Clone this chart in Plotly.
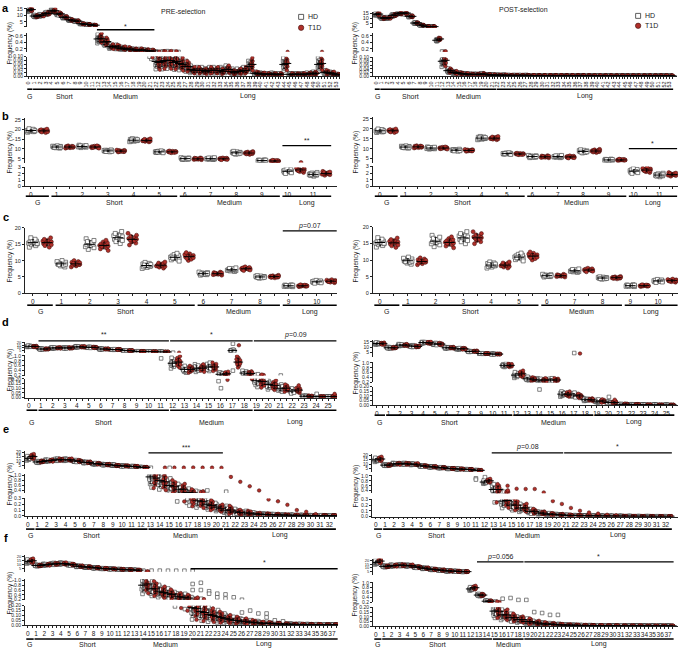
import plotly.graph_objects as go

W, H = 680, 650
FONT = "Liberation Sans, Arial, Helvetica, sans-serif"

# ---------------- data (frequencies in %) ----------------
A_CATS = [str(i) for i in range(54)]
A_PRE_HD = [14.0, 9.5, 10.0, 11.5, 13.5, 11.0, 8.5, 6.5, 5.5, 3.5, 3.0, 2.3,
            0.50, 0.40, 0.27, 0.25, 0.20, 0.18, 0.16, 0.15, 0.14, 0.12,
            0.075, 0.075, 0.08, 0.07, 0.065, 0.05, 0.035, 0.03, 0.03, 0.03, 0.03, 0.03,
            0.035, 0.025, 0.025, 0.03, 0.05, 0.015, 0.012, 0.01, 0.012, 0.01, 0.06, 0.01,
            0.01, 0.01, 0.012, 0.015, 0.06, 0.02, 0.015, 0.008]
A_PRE_T1D = [14.5, 9.3, 10.2, 11.6, 13.6, 11.2, 8.6, 6.4, 5.6, 3.4, 2.9, 2.4,
             0.52, 0.42, 0.26, 0.25, 0.21, 0.19, 0.16, 0.16, 0.14, 0.13,
             0.07, 0.08, 0.08, 0.075, 0.06, 0.05, 0.03, 0.03, 0.025, 0.03, 0.03, 0.025,
             0.035, 0.02, 0.025, 0.03, 0.06, 0.015, 0.012, 0.01, 0.01, 0.01, 0.065, 0.01,
             0.01, 0.01, 0.012, 0.015, 0.065, 0.02, 0.015, 0.008]
A_POST_HD = [14.0, 10.5, 10.5, 13.0, 15.0, 15.0, 12.0, 5.5, 3.5, 2.0, 2.0,
             0.46, 0.08, 0.03, 0.02, 0.015, 0.012, 0.01, 0.01, 0.012, 0.008, 0.007,
             0.006, 0.006, 0.005, 0.005, 0.005, 0.005, 0.004, 0.004, 0.004, 0.004, 0.004,
             0.004, 0.004, 0.004, 0.004, 0.004, 0.004, 0.003, 0.003, 0.003, 0.003, 0.003,
             0.003, 0.003, 0.003, 0.003, 0.003, 0.003, 0.003, 0.003, 0.003, 0.003]
A_POST_T1D = [14.2, 10.3, 10.6, 13.2, 15.0, 15.2, 12.0, 5.6, 3.4, 2.0, 2.0,
              0.50, 0.085, 0.03, 0.02, 0.015, 0.012, 0.01, 0.01, 0.012, 0.008, 0.007,
              0.006, 0.006, 0.005, 0.005, 0.005, 0.005, 0.004, 0.004, 0.004, 0.004, 0.004,
              0.004, 0.004, 0.004, 0.004, 0.004, 0.004, 0.003, 0.003, 0.003, 0.003, 0.003,
              0.003, 0.003, 0.003, 0.003, 0.003, 0.003, 0.003, 0.003, 0.003, 0.003]

B_CATS = [str(i) for i in range(12)]
B_PRE_HD = [19.5, 11.0, 11.3, 9.0, 14.5, 8.5, 5.0, 5.0, 8.0, 4.0, 2.4, 1.9]
B_PRE_T1D = [19.3, 11.0, 11.0, 8.9, 14.4, 8.5, 4.9, 4.9, 7.9, 3.8, 2.6, 2.05]
B_POST_HD = [19.0, 10.8, 10.3, 9.2, 15.3, 7.5, 6.0, 6.0, 8.6, 4.3, 2.3, 1.7]
B_POST_T1D = [19.0, 10.9, 10.3, 9.1, 15.3, 7.3, 5.9, 5.8, 8.8, 4.3, 2.45, 1.8]

C_CATS = [str(i) for i in range(11)]
C_PRE_HD = [15.5, 9.0, 15.0, 17.0, 8.5, 11.0, 6.0, 7.2, 5.0, 2.3, 3.5]
C_PRE_T1D = [15.5, 9.0, 14.6, 16.5, 8.6, 11.2, 6.0, 7.5, 5.1, 2.3, 3.7]
C_POST_HD = [15.3, 9.8, 15.7, 16.7, 8.5, 10.9, 5.3, 6.8, 4.6, 2.3, 3.7]
C_POST_T1D = [15.2, 9.6, 15.3, 16.7, 8.5, 11.2, 5.3, 7.0, 4.7, 2.3, 3.8]

D_CATS = [str(i) for i in range(26)]
D_PRE_HD = [13.0, 8.0, 10.0, 10.0, 12.0, 11.0, 8.0, 7.0, 5.0, 3.5, 3.0, 2.5,
            0.70, 0.45, 0.50, 0.55, 0.25, 5.0, 0.30, 0.18, 0.14, 0.10, 0.07, 0.015, 0.01, 0.01]
D_PRE_T1D = [12.5, 8.0, 10.0, 10.0, 12.0, 11.0, 8.0, 7.0, 5.0, 3.5, 3.0, 2.5,
             0.75, 0.45, 0.50, 0.55, 0.27, 0.75, 0.28, 0.17, 0.13, 0.10, 0.08, 0.015, 0.01, 0.012]
D_PRE_HD_OUT = [(11, 0.9), (12, 1.1), (16, 0.1), (17, 18.0), (17, 0.4), (21, 0.2), (24, 0.04)]
D_PRE_T1D_OUT = [(12, 1.1), (17, 15.0), (22, 0.13), (25, 0.04)]
D_POST_HD = [13.5, 9.5, 12.0, 11.0, 14.5, 13.0, 9.5, 8.5, 6.0, 4.0, 3.5, 0.9,
             0.50, 0.35, 0.30, 0.30, 0.12, 0.11, 0.06, 0.045, 0.03, 0.01, 0.008, 0.005, 0.004, 0.003]
D_POST_T1D = [13.3, 9.5, 12.0, 10.8, 14.3, 13.0, 9.5, 8.5, 6.2, 4.0, 3.5, 0.9,
              0.55, 0.33, 0.30, 0.30, 0.12, 0.10, 0.06, 0.045, 0.03, 0.012, 0.008, 0.005, 0.004, 0.003]
D_POST_HD_OUT = [(14, 0.17), (17, 4.5), (20, 0.09)]
D_POST_T1D_OUT = [(17, 4.0), (20, 0.06)]

E_CATS = [str(i) for i in range(33)]
E_PRE_HD = [13.0, 9.0, 10.5, 11.5, 11.5, 10.0, 8.5, 7.0, 6.0, 5.5, 4.5, 4.0, 3.0,
            0.95, 0.80, 0.60, 0.45, 0.32, 0.26, 0.20, 0.15,
            0.10, 0.07, 0.05, 0.035, 0.025, 0.02, 0.015, 0.012, 0.01, 0.008, 0.007, 0.006]
E_PRE_T1D = [15.0, 9.5, 10.5, 11.5, 11.5, 10.0, 8.5, 7.0, 6.0, 5.0, 4.5, 4.0, 3.0,
             0.90, 0.75, 0.55, 0.45, 0.30, 0.25, 0.18, 0.13,
             0.10, 0.06, 0.05, 0.03, 0.025, 0.02, 0.015, 0.012, 0.01, 0.008, 0.007, 0.006]
E_PRE_HD_OUT = [(13, 2.5), (15, 2.4), (19, 0.4), (21, 0.35)]
E_PRE_T1D_OUT = [(14, 2.6), (15, 2.6), (16, 2.6), (17, 2.8), (18, 2.6), (19, 2.6), (20, 2.5),
                 (21, 0.95), (22, 0.75), (23, 0.57), (24, 0.40), (25, 0.28), (26, 0.25),
                 (27, 0.19), (28, 0.10), (29, 0.07), (30, 0.03)]
E_POST_HD = [15.0, 9.0, 10.5, 10.5, 10.0, 8.0, 7.0, 6.0, 5.0, 4.5, 4.0, 3.0,
             0.75, 0.45, 0.27, 0.20, 0.15, 0.09, 0.06, 0.04, 0.03,
             0.02, 0.015, 0.012, 0.01, 0.008, 0.007, 0.006, 0.005, 0.004, 0.004, 0.003, 0.003]
E_POST_T1D = [16.0, 9.0, 10.5, 10.5, 10.0, 8.0, 7.0, 6.0, 5.0, 4.5, 4.0, 3.0,
              0.80, 0.45, 0.28, 0.20, 0.15, 0.09, 0.06, 0.04, 0.03,
              0.02, 0.015, 0.012, 0.01, 0.008, 0.007, 0.006, 0.005, 0.004, 0.004, 0.003, 0.003]
E_POST_HD_OUT = [(11, 0.9), (11, 0.85), (12, 0.95)]
E_POST_T1D_OUT = [(14, 0.60), (15, 0.48), (16, 0.47), (17, 0.47), (18, 0.33), (19, 0.27),
                  (20, 0.22), (21, 0.15), (22, 0.10), (23, 0.07), (24, 0.05), (25, 0.03), (26, 0.02)]

F_CATS = [str(i) for i in range(38)]
F_PRE_HD = [14.0, 9.0, 10.0, 11.0, 11.5, 10.0, 8.0, 7.0, 6.0, 5.0, 4.5, 4.0, 3.5, 3.0,
            0.80, 0.65, 0.55, 0.45, 0.35, 0.30,
            0.18, 0.14, 0.11, 0.09, 0.07, 0.05, 0.04, 0.03, 0.025, 0.02, 0.015, 0.012,
            0.01, 0.008, 0.007, 0.006, 0.005, 0.005]
F_PRE_T1D = [15.0, 9.0, 10.0, 11.0, 11.5, 10.0, 8.0, 7.0, 6.0, 5.0, 4.5, 4.0, 3.5, 3.0,
             0.85, 0.65, 0.50, 0.42, 0.32, 0.27,
             0.17, 0.13, 0.10, 0.08, 0.06, 0.05, 0.04, 0.03, 0.02, 0.018, 0.014, 0.011,
             0.009, 0.008, 0.007, 0.006, 0.005, 0.005]
F_PRE_HD_OUT = [(14, 2.4), (15, 2.4), (16, 2.4), (17, 2.3), (18, 2.3), (19, 2.3), (20, 2.2),
                (20, 0.85), (20, 0.6), (21, 0.9), (21, 0.6), (22, 0.55), (22, 0.45), (23, 0.45),
                (23, 0.3), (24, 0.42), (24, 0.25), (25, 0.3), (26, 0.2), (26, 0.13), (27, 0.15),
                (28, 0.12), (29, 0.12), (29, 0.08), (30, 0.05), (31, 0.04)]
F_PRE_T1D_OUT = []
F_POST_HD = [17.0, 12.0, 13.0, 13.5, 13.0, 11.0, 9.5, 8.0, 7.0, 6.0, 5.5, 5.0,
             0.75, 0.50, 0.25, 0.16, 0.12, 0.09, 0.07, 0.05, 0.035, 0.025, 0.02, 0.015,
             0.012, 0.01, 0.008, 0.007, 0.006, 0.005, 0.005, 0.004, 0.004, 0.004, 0.003,
             0.003, 0.003, 0.003]
F_POST_T1D = [19.0, 12.0, 13.0, 13.5, 13.0, 11.0, 9.5, 8.0, 7.0, 6.0, 5.5, 5.0,
              0.80, 0.50, 0.25, 0.16, 0.12, 0.09, 0.07, 0.05, 0.035, 0.025, 0.02, 0.015,
              0.012, 0.01, 0.008, 0.007, 0.006, 0.005, 0.005, 0.004, 0.004, 0.004, 0.003,
              0.003, 0.003, 0.003]
F_POST_HD_OUT = [(16, 0.35), (17, 0.38), (18, 0.30), (19, 0.30), (20, 0.15), (21, 0.14),
                 (22, 0.12), (23, 0.12)]
F_POST_T1D_OUT = []

# fixed donor pattern (standardised deviations read as spread around the mean)
DONOR_Z = [-1.5, -1.0, -0.7, -0.4, -0.15, 0.05, 0.25, 0.5, 0.8, 1.1, 1.6, -0.25]
DONOR_DX = [-0.25, 0.2, -0.1, 0.3, -0.3, 0.05, -0.2, 0.25, -0.05, 0.15, -0.15, 0.3]

# ---------------- layout helpers ----------------
def xp(px):
    return px / W

def yp(py):
    return 1 - py / H

TOP_A = [1, 5, 10, 15]
MID_A = [0.2, 0.4, 0.6]
BOT_A = [0, 0.02, 0.04, 0.06, 0.08, 0.10]
MID_D = [0.2, 0.4, 0.6, 0.8, 1.0]
BOT_D = [0, 0.05, 0.10, 0.15, 0.20]
MID_E = [0.4, 0.6, 0.8, 1.0]
BOT_E = [0, 0.1, 0.2, 0.3]

def lbl(vals, fmt):
    return [fmt.format(v) for v in vals]

def seg(lo, hi, plo, phi, tv, tt, fs=5.5):
    return dict(lo=lo, hi=hi, plo=plo, phi=phi, tv=tv, tt=tt, fs=fs)

A_GROUPS = [("G", 0, 0), ("Short", 1, 11), ("Medium", 12, 21), ("Long", 22, 53)]
B_GROUPS = [("G", 0, 0), ("Short", 1, 5), ("Medium", 6, 9), ("Long", 10, 11)]
C_GROUPS = [("G", 0, 0), ("Short", 1, 5), ("Medium", 6, 8), ("Long", 9, 10)]
D_GROUPS = [("G", 0, 0), ("Short", 1, 11), ("Medium", 12, 18), ("Long", 19, 25)]
E_GROUPS = [("G", 0, 0), ("Short", 1, 12), ("Medium", 13, 20), ("Long", 21, 32)]
F_GROUPS_L = [("G", 0, 0), ("Short", 1, 13), ("Medium", 14, 19), ("Long", 20, 37)]
F_GROUPS_R = [("G", 0, 0), ("Short", 1, 14), ("Medium", 15, 18), ("Long", 19, 37)]

T4 = [5, 10, 15, 20]
T4L = ["5", "10", "15", "20"]
topA = lbl([5, 10, 15], "{:g}")
PANELS = [
    dict(letter="a", lpos=(4, 5), cats=A_CATS, hd=A_PRE_HD, t1d=A_PRE_T1D,
         rel={"G": 0.06, "Short": 0.06, "Medium": 0.18, "Long": 0.35},
         dom=(25, 339), pf=26.5, pl=338, groups=A_GROUPS, gy=87, gly=94,
         segs=[seg(1, 16, 24.2, 4.7, TOP_A, [""] + topA),
               seg(0.1, 0.7, 49.3, 29.8, MID_A, lbl(MID_A, "{:.1f}")),
               seg(0, 0.1, 74, 54, BOT_A, lbl(BOT_A, "{:.2f}"), 5)],
         sig=[(12, 21, "*")], sly=27, sty=23.5, xang=-90, xfs=5.5, ms=3.4, ylx=8, yly=40,
         title=("PRE-selection", 182, 9), legend=(300, 14, 25)),
    dict(letter="", lpos=None, cats=A_CATS, hd=A_POST_HD, t1d=A_POST_T1D,
         rel={"G": 0.06, "Short": 0.05, "Medium": 0.25, "Long": 0.3},
         dom=(372, 677), pf=375, pl=672, groups=A_GROUPS, gy=87, gly=94,
         segs=[seg(1, 16.5, 24.9, 8.8, TOP_A, [""] + topA),
               seg(0.1, 0.7, 49.3, 29.8, MID_A, lbl(MID_A, "{:.1f}")),
               seg(0, 0.1, 74, 55, BOT_A, lbl(BOT_A, "{:.2f}"), 5)],
         sig=[], xang=-90, xfs=5.5, ms=3.4, ylx=354, yly=40,
         title=("POST-selection", 523, 7), legend=(638, 13, 23)),
    dict(letter="b", lpos=(4, 114), cats=B_CATS, hd=B_PRE_HD, t1d=B_PRE_T1D,
         rel={"G": 0.03, "Short": 0.035, "Medium": 0.06, "Long": 0.1},
         dom=(23, 336), pf=29, pl=325, groups=B_GROUPS, gy=195, gly=201.5,
         segs=[seg(3, 26, 161, 116, [5, 10, 15, 20, 25], ["5", "10", "15", "20", "25"]),
               seg(0, 3, 185, 166, [0, 1, 2, 3], ["0", "1", "2", "3"])],
         sig=[(10, 11, "**")], sly=144, sty=139, xang=0, xfs=6.5, ms=4.0, ylx=8, yly=150),
    dict(letter="", lpos=None, cats=B_CATS, hd=B_POST_HD, t1d=B_POST_T1D,
         rel={"G": 0.03, "Short": 0.035, "Medium": 0.06, "Long": 0.1},
         dom=(372, 678), pf=379, pl=672, groups=B_GROUPS, gy=195, gly=201.5,
         segs=[seg(3, 26, 161, 115, [5, 10, 15, 20, 25], ["5", "10", "15", "20", "25"]),
               seg(0, 3, 185, 165, [0, 1, 2, 3], ["0", "1", "2", "3"])],
         sig=[(10, 11, "*")], sly=147, sty=142, xang=0, xfs=6.5, ms=4.0, ylx=355, yly=150),
    dict(letter="c", lpos=(4, 216), cats=C_CATS, hd=C_PRE_HD, t1d=C_PRE_T1D,
         rel={"G": 0.06, "Short": 0.07, "Medium": 0.05, "Long": 0.08},
         dom=(23, 336), pf=31, pl=330, groups=C_GROUPS, gy=305, gly=311.5,
         segs=[seg(0, 20, 293, 227, [0, 5, 10, 15, 20], ["0", "5", "10", "15", "20"])],
         sig=[(9, 10, "<i>p</i>=0.07")], sly=230, sty=225, xang=0, xfs=6.5, ms=4.0, ylx=8, yly=260),
    dict(letter="", lpos=None, cats=C_CATS, hd=C_POST_HD, t1d=C_POST_T1D,
         rel={"G": 0.06, "Short": 0.07, "Medium": 0.05, "Long": 0.08},
         dom=(372, 678), pf=379, pl=672, groups=C_GROUPS, gy=305, gly=311.5,
         segs=[seg(0, 20, 293, 226, [0, 5, 10, 15, 20], ["0", "5", "10", "15", "20"])],
         sig=[], xang=0, xfs=6.5, ms=4.0, ylx=355, yly=260),
    dict(letter="d", lpos=(4, 322), cats=D_CATS, hd=D_PRE_HD, t1d=D_PRE_T1D,
         hd_out=D_PRE_HD_OUT, t1d_out=D_PRE_T1D_OUT,
         rel={"G": 0.06, "Short": 0.06, "Medium": 0.2, "Long": 0.25},
         dom=(23, 336), pf=27, pl=333, groups=D_GROUPS, gy=411, gly=423,
         segs=[seg(1, 21, 353, 342.2, T4, T4L, 4),
               seg(0.2, 1.05, 376, 355, MID_D, lbl(MID_D, "{:.1f}"), 5),
               seg(0, 0.2, 398.3, 379.3, BOT_D, lbl(BOT_D, "{:.2f}"), 5)],
         sig=[(1, 11, "**"), (12, 18, "*"), (19, 25, "<i>p</i>=0.09")], sly=341, sty=335,
         xang=0, xfs=6.5, ms=3.6, ylx=8, yly=370),
    dict(letter="", lpos=None, cats=D_CATS, hd=D_POST_HD, t1d=D_POST_T1D,
         hd_out=D_POST_HD_OUT, t1d_out=D_POST_T1D_OUT,
         rel={"G": 0.05, "Short": 0.05, "Medium": 0.15, "Long": 0.25},
         dom=(372, 678), pf=376, pl=672, groups=D_GROUPS, gy=416, gly=423,
         segs=[seg(1, 17, 357, 340, [5, 10, 15], ["5", "10", "15"], 5),
               seg(0.2, 1.05, 383, 362, MID_D, lbl(MID_D, "{:.1f}"), 5),
               seg(0, 0.2, 406, 387.3, BOT_D, lbl(BOT_D, "{:.2f}"), 5)],
         sig=[], xang=0, xfs=6.5, ms=3.6, ylx=355, yly=373),
    dict(letter="e", lpos=(4, 430), cats=E_CATS, hd=E_PRE_HD, t1d=E_PRE_T1D,
         hd_out=E_PRE_HD_OUT, t1d_out=E_PRE_T1D_OUT,
         rel={"G": 0.12, "Short": 0.07, "Medium": 0.3, "Long": 0.45},
         dom=(23, 336), pf=26, pl=333, groups=E_GROUPS, gy=531, gly=537,
         segs=[seg(1.5, 21, 470, 452.4, T4, T4L, 4.5),
               seg(0.3, 1.05, 494.5, 475.8, MID_E, lbl(MID_E, "{:.1f}"), 5),
               seg(0, 0.3, 517.7, 500, BOT_E, lbl(BOT_E, "{:.1f}"), 5)],
         sig=[(13, 20, "***")], sly=454, sty=449, xang=0, xfs=6.5, ms=3.6, ylx=8, yly=485),
    dict(letter="", lpos=None, cats=E_CATS, hd=E_POST_HD, t1d=E_POST_T1D,
         hd_out=E_POST_HD_OUT, t1d_out=E_POST_T1D_OUT,
         rel={"G": 0.1, "Short": 0.06, "Medium": 0.3, "Long": 0.4},
         dom=(371, 678), pf=375, pl=670, groups=E_GROUPS, gy=531, gly=537,
         segs=[seg(1.5, 22, 473, 455, T4, T4L, 4.5),
               seg(0.3, 1.05, 494.8, 476, MID_E, lbl(MID_E, "{:.1f}"), 5),
               seg(0, 0.3, 518.3, 501, BOT_E, lbl(BOT_E, "{:.1f}"), 5)],
         sig=[(13, 20, "<i>p</i>=0.08"), (21, 32, "*")], sly=454, sty=448,
         xang=0, xfs=6.5, ms=3.6, ylx=355, yly=487),
    dict(letter="f", lpos=(4, 540), cats=F_CATS, hd=F_PRE_HD, t1d=F_PRE_T1D,
         hd_out=F_PRE_HD_OUT, t1d_out=F_PRE_T1D_OUT,
         rel={"G": 0.12, "Short": 0.07, "Medium": 0.3, "Long": 0.45},
         dom=(23, 337), pf=26, pl=335, groups=F_GROUPS_L, gy=642, gly=647,
         segs=[seg(1, 22, 574, 557.5, T4, T4L, 4),
               seg(0.2, 1.05, 602.3, 581.5, MID_D, lbl(MID_D, "{:.1f}"), 5),
               seg(0, 0.2, 628, 608.3, BOT_D, lbl(BOT_D, "{:.2f}"), 5)],
         sig=[(20, 37, "*")], sly=571, sty=565, xang=0, xfs=6.5, ms=3.6, ylx=8, yly=595),
    dict(letter="", lpos=None, cats=F_CATS, hd=F_POST_HD, t1d=F_POST_T1D,
         hd_out=F_POST_HD_OUT, t1d_out=F_POST_T1D_OUT,
         rel={"G": 0.1, "Short": 0.06, "Medium": 0.3, "Long": 0.4},
         dom=(372, 678), pf=375, pl=672, groups=F_GROUPS_R, gy=642, gly=647,
         segs=[seg(1, 22, 577, 561, T4, T4L, 4),
               seg(0.2, 1.05, 605, 584, MID_D, lbl(MID_D, "{:.1f}"), 5),
               seg(0, 0.2, 629, 610, BOT_D, lbl(BOT_D, "{:.2f}"), 5)],
         sig=[(13, 18, "<i>p</i>=0.056"), (19, 37, "*")], sly=564, sty=559,
         xang=0, xfs=6.5, ms=3.6, ylx=355, yly=597),
]

HD_STYLE = dict(symbol="square", color="white", line=dict(color="#4d4d4d", width=0.7))
T1D_STYLE = dict(symbol="circle", color="#b0302a", line=dict(color="#3d0d0a", width=0.5))
AX = "#222222"

fig = go.Figure()
lay = dict(width=W, height=H, margin=dict(l=0, r=0, t=0, b=0),
           paper_bgcolor="white", plot_bgcolor="rgba(0,0,0,0)", showlegend=False,
           font=dict(family=FONT, size=7, color=AX))
shapes, anns = [], []
xc, yc = 0, 0

for P in PANELS:
    xc += 1
    xid = "" if xc == 1 else str(xc)
    n = len(P["cats"])
    npos = 2 * n - 1
    d0, d1 = P["dom"]
    s = (P["pl"] - P["pf"]) / npos
    xr = [-(P["pf"] - d0) / s, npos + (d1 - P["pl"]) / s]
    segs = P["segs"]
    yids = []
    for sg in segs:
        yc += 1
        yid = "" if yc == 1 else str(yc)
        yids.append(yid)
        lay["yaxis" + yid] = dict(
            domain=[yp(sg["plo"]), yp(sg["phi"])], range=[sg["lo"], sg["hi"]],
            anchor="x" + xid, showline=True, linecolor=AX, linewidth=0.8,
            ticks="outside", ticklen=2, tickwidth=0.7, tickcolor=AX,
            tickvals=sg["tv"], ticktext=sg["tt"], tickfont=dict(size=sg["fs"], color=AX),
            showgrid=False, zeroline=False, fixedrange=True)
    tv = list(range(2 * n))
    tt = [P["cats"][i // 2] if i % 2 == 0 else "" for i in tv]
    lay["xaxis" + xid] = dict(
        domain=[xp(d0), xp(d1)], range=xr, anchor="y" + yids[-1], showline=True,
        linecolor=AX, linewidth=0.8, ticks="outside", ticklen=2, tickwidth=0.7,
        tickcolor=AX, tickvals=tv, ticktext=tt, tickangle=P["xang"],
        tickfont=dict(size=P["xfs"], color=AX), showgrid=False, zeroline=False,
        fixedrange=True)

    def grp(k):
        for name, a, b in P["groups"]:
            if a <= k <= b:
                return name
        return "Long"

    def seg_of(v):
        for j, sg in enumerate(segs):
            if v >= sg["lo"]:
                return j
        return len(segs) - 1

    nseg = len(segs)
    pts = {g: [([], []) for _ in range(nseg)] for g in ("hd", "t1d")}
    means = [([], [], []) for _ in range(nseg)]
    for g, off in (("hd", 0), ("t1d", 1)):
        vals = P[g]
        for k, m in enumerate(vals):
            sd = m * P["rel"][grp(k)]
            x0 = 2 * k + off
            for i in range(len(DONOR_Z)):
                z = DONOR_Z[(i + 5 * k + 3 * off) % len(DONOR_Z)]
                v = max(m + sd * z, m * 0.15)
                j = seg_of(v)
                pts[g][j][0].append(x0 + DONOR_DX[i])
                pts[g][j][1].append(v)
            j = seg_of(m)
            means[j][0].append(x0)
            means[j][1].append(m)
            means[j][2].append(sd)
        for (k, v) in P.get(g + "_out", []):
            j = seg_of(v)
            pts[g][j][0].append(2 * k + off + 0.1)
            pts[g][j][1].append(v)

    for j in range(nseg):
        xa, ya = "x" + xid, "y" + yids[j]
        for g, st in (("hd", HD_STYLE), ("t1d", T1D_STYLE)):
            xs, ys = pts[g][j]
            if xs:
                fig.add_trace(go.Scatter(x=xs, y=ys, mode="markers", xaxis=xa, yaxis=ya,
                                         marker=dict(size=P["ms"], **st), hoverinfo="skip"))
        mx, my, msd = means[j]
        if mx:
            fig.add_trace(go.Scatter(
                x=mx, y=my, mode="markers", xaxis=xa, yaxis=ya,
                marker=dict(symbol="line-ew", size=P["ms"] * 1.9,
                            line=dict(color="black", width=1)),
                error_y=dict(type="data", array=msd, thickness=0.7, width=1.2, color="black"),
                hoverinfo="skip"))

    for name, a, b in P["groups"]:
        xa0, xa1 = 2 * a - 0.4, 2 * b + 1.4
        shapes.append(dict(type="line", xref="x" + xid, yref="paper", x0=xa0, x1=xa1,
                           y0=yp(P["gy"]), y1=yp(P["gy"]), line=dict(color="black", width=1.6)))
        anns.append(dict(xref="x" + xid, yref="paper", x=(xa0 + xa1) / 2, y=yp(P["gly"]),
                         text=name, showarrow=False, font=dict(size=7, color=AX),
                         xanchor="center", yanchor="middle"))
    for a, b, txt in P.get("sig", []):
        xa0, xa1 = 2 * a - 0.4, 2 * b + 1.4
        shapes.append(dict(type="line", xref="x" + xid, yref="paper", x0=xa0, x1=xa1,
                           y0=yp(P["sly"]), y1=yp(P["sly"]), line=dict(color="black", width=1.3)))
        anns.append(dict(xref="x" + xid, yref="paper", x=(xa0 + xa1) / 2, y=yp(P["sty"]),
                         text=txt, showarrow=False, font=dict(size=7, color=AX),
                         xanchor="center", yanchor="middle"))
    anns.append(dict(xref="paper", yref="paper", x=xp(P["ylx"]), y=yp(P["yly"]),
                     text="Frequency (%)", textangle=-90, showarrow=False,
                     font=dict(size=6.5, color=AX), xanchor="center", yanchor="middle"))
    if P["letter"]:
        lx, ly = P["lpos"]
        anns.append(dict(xref="paper", yref="paper", x=xp(lx), y=yp(ly), text="<b>%s</b>" % P["letter"],
                         showarrow=False, font=dict(size=11, color="black"),
                         xanchor="center", yanchor="middle"))
    if P.get("title"):
        t, tx, ty = P["title"]
        anns.append(dict(xref="paper", yref="paper", x=xp(tx), y=yp(ty), text=t, showarrow=False,
                         font=dict(size=7, color=AX), xanchor="center", yanchor="middle"))
    if P.get("legend"):
        lx, l1, l2 = P["legend"]
        shapes.append(dict(type="rect", xref="paper", yref="paper", x0=xp(lx - 2.5), x1=xp(lx + 2.5),
                           y0=yp(l1 + 2.5), y1=yp(l1 - 2.5), fillcolor="white",
                           line=dict(color="#4d4d4d", width=0.9)))
        shapes.append(dict(type="circle", xref="paper", yref="paper", x0=xp(lx - 2.7), x1=xp(lx + 2.7),
                           y0=yp(l2 + 2.7), y1=yp(l2 - 2.7), fillcolor="#b0302a",
                           line=dict(color="#3d0d0a", width=0.6)))
        for txt, ly in (("HD", l1), ("T1D", l2)):
            anns.append(dict(xref="paper", yref="paper", x=xp(lx + 5), y=yp(ly), text=txt,
                             showarrow=False, font=dict(size=7, color=AX),
                             xanchor="left", yanchor="middle"))

lay["shapes"] = shapes
lay["annotations"] = anns
fig.update_layout(**lay)
fig.write_html("out.html", config={"displayModeBar": False},
               post_script="document.body.style.margin='0';document.body.style.overflow='hidden';")
